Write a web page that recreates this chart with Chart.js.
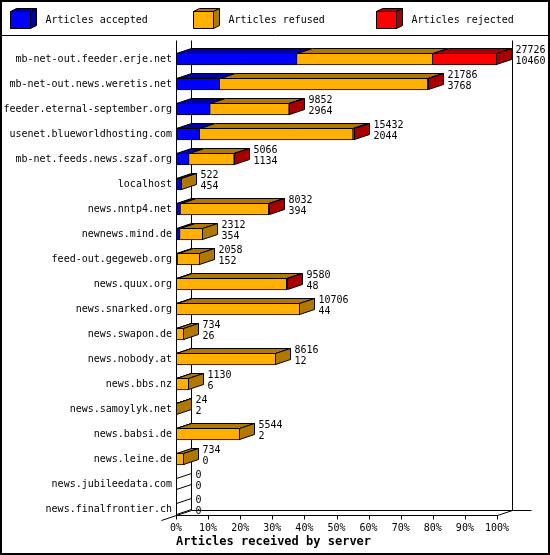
<!DOCTYPE html>
<html>
<head>
<meta charset="utf-8">
<title>Articles received by server</title>
<script src="https://cdn.jsdelivr.net/npm/chart.js@4.4.1/dist/chart.umd.min.js"></script>
<style>
  html, body { margin: 0; padding: 0; background: #fff; }
  canvas { display: block; }
</style>
</head>
<body>
<canvas id="feedChart" width="550" height="555"></canvas>
<script>
// servers, in the order of the picture
var hosts = [
  'mb-net-out.feeder.erje.net', 'mb-net-out.news.weretis.net', 'feeder.eternal-september.org',
  'usenet.blueworldhosting.com', 'mb-net.feeds.news.szaf.org', 'localhost', 'news.nntp4.net',
  'newnews.mind.de', 'feed-out.gegeweb.org', 'news.quux.org', 'news.snarked.org', 'news.swapon.de',
  'news.nobody.at', 'news.bbs.nz', 'news.samoylyk.net', 'news.babsi.de', 'news.leine.de',
  'news.jubileedata.com', 'news.finalfrontier.ch'
];
// numbers printed next to the bars
var offered  = [27726, 21786, 9852, 15432, 5066, 522, 8032, 2312, 2058, 9580, 10706, 734, 8616, 1130, 24, 5544, 734, 0, 0];
var accepted = [10460, 3768, 2964, 2044, 1134, 454, 394, 354, 152, 48, 44, 26, 12, 6, 2, 2, 0, 0, 0];
// split of the rest
var refused  = [11706, 17978, 6808, 13248, 3892, 68, 7618, 1958, 1906, 9512, 10662, 708, 8604, 1124, 22, 5542, 734, 0, 0];
var rejected = [5560, 40, 80, 140, 40, 0, 20, 0, 0, 20, 0, 0, 0, 0, 0, 0, 0, 0, 0];
var xTicks = [0, 10, 20, 30, 40, 50, 60, 70, 80, 90, 100];

var seriesNames = ['Articles accepted', 'Articles refused', 'Articles rejected'];
var frontColors = ['#0000ff', '#ffb000', '#ff0000'];
var darkColors  = ['#0000a8', '#b07800', '#a80000'];

var maxOffered = Math.max.apply(null, offered);
function toPct(list) {
  return list.map(function(v) { return v / maxOffered * 100; });
}

var DX = 15, DY = 5;
var FONT = "'DejaVu Sans Mono', monospace";

function poly(ctx, pts, fill) {
  ctx.beginPath();
  ctx.moveTo(pts[0][0], pts[0][1]);
  for (var i = 1; i < pts.length; i++) ctx.lineTo(pts[i][0], pts[i][1]);
  ctx.closePath();
  if (fill) { ctx.fillStyle = fill; ctx.fill(); }
  ctx.stroke();
}
function line(ctx, x1, y1, x2, y2) {
  ctx.beginPath();
  ctx.moveTo(x1, y1);
  ctx.lineTo(x2, y2);
  ctx.stroke();
}

function floorOf(chart) {
  var y = chart.scales.y;
  return Math.round(y.getPixelForValue(hosts.length - 1)) + 6;
}

var box3d = {
  id: 'box3d',
  beforeDatasetsDraw: function(chart) {
    var ctx = chart.ctx, a = chart.chartArea, xs = chart.scales.x;
    var left = Math.round(a.left), right = Math.round(a.right);
    var fy = floorOf(chart);
    ctx.save();
    ctx.translate(0.5, 0.5);
    ctx.strokeStyle = '#000';
    ctx.lineWidth = 1;
    // walls and floor
    line(ctx, left + DX, 40, left + DX, fy - DY);
    line(ctx, right + DX, 40, right + DX, fy - DY);
    line(ctx, left + DX, fy - DY, right + DX + 19, fy - DY);
    line(ctx, left, fy, right, fy);
    line(ctx, right, fy, right + DX, fy - DY);
    line(ctx, left - DX, fy + DY, left + DX, fy - DY);
    xTicks.forEach(function(t) {
      var px = Math.round(xs.getPixelForValue(t));
      line(ctx, px, fy, px, fy + 4);
    });
    ctx.restore();
  },
  afterDatasetsDraw: function(chart) {
    var ctx = chart.ctx, a = chart.chartArea;
    var left = Math.round(a.left);
    var metas = [0, 1, 2].map(function(d) { return chart.getDatasetMeta(d); });
    ctx.save();
    ctx.translate(0.5, 0.5);
    ctx.strokeStyle = '#000';
    ctx.lineWidth = 1;
    line(ctx, left, 40, left, floorOf(chart));

    hosts.forEach(function(h, i) {
      var last = -1, endX = left - 1, yT = 0, yB = 0, yc = 0;
      metas.forEach(function(m, d) {
        var el = m.data[i].getProps(['x', 'y', 'base', 'height'], true);
        var x0 = Math.round(el.base), x1 = Math.round(el.x) - 1;
        yc = el.y;
        yT = Math.round(el.y - el.height / 2);
        yB = yT + Math.round(el.height) - 1;
        if (x1 >= x0 || chart.data.datasets[d].data[i] > 0) {
          x1 = Math.max(x1, x0);
          poly(ctx, [[x0, yT], [x0 + DX, yT - DY], [x1 + DX, yT - DY], [x1, yT]], darkColors[d]);
          last = d;
          endX = x1;
        }
      });
      // side of the bar
      var side = [[endX, yT], [endX + DX, yT - DY], [endX + DX, yB - DY], [endX, yB]];
      if (last < 0) {
        endX = left;
        side = [[left, yT], [left + DX, yT - DY], [left + DX, yB - DY], [left, yB]];
        poly(ctx, side, null);
      } else {
        poly(ctx, side, darkColors[last]);
      }
      // counts
      ctx.fillStyle = '#000';
      ctx.font = '10px ' + FONT;
      ctx.textAlign = 'left';
      ctx.textBaseline = 'middle';
      ctx.fillText(String(offered[i]), endX + DX + 4, yc - 9);
      ctx.fillText(String(accepted[i]), endX + DX + 4, yc + 2);
    });
    ctx.restore();
  },
  afterDraw: function(chart) {
    var ctx = chart.ctx;
    var legendX = [10, 193, 376];
    ctx.save();
    ctx.translate(0.5, 0.5);
    ctx.strokeStyle = '#000';
    ctx.lineWidth = 1;
    seriesNames.forEach(function(name, d) {
      var x = legendX[d], y = 11, w = 20, hh = 17;
      poly(ctx, [[x, y], [x + 6, y - 3], [x + w + 6, y - 3], [x + w, y]], darkColors[d]);
      poly(ctx, [[x + w, y], [x + w + 6, y - 3], [x + w + 6, y + hh - 3], [x + w, y + hh]], darkColors[d]);
      poly(ctx, [[x, y], [x + w, y], [x + w, y + hh], [x, y + hh]], frontColors[d]);
      ctx.fillStyle = '#000';
      ctx.font = '10px ' + FONT;
      ctx.textAlign = 'left';
      ctx.textBaseline = 'middle';
      ctx.fillText(name, x + 35, 20);
    });
    line(ctx, 0, 35, 550, 35);
    ctx.restore();
    ctx.save();
    ctx.strokeStyle = '#000';
    ctx.lineWidth = 2;
    ctx.strokeRect(1, 1, 548, 553);
    ctx.restore();
  }
};

var datasets = [accepted, refused, rejected].map(function(list, d) {
  return {
    label: seriesNames[d],
    data: toPct(list),
    backgroundColor: frontColors[d],
    borderColor: '#000',
    borderWidth: 1,
    borderSkipped: d === 0 ? false : 'start',
    barThickness: 12,
    stack: 'all'
  };
});

new Chart(document.getElementById('feedChart'), {
  type: 'bar',
  data: { labels: hosts, datasets: datasets },
  options: {
    indexAxis: 'y',
    responsive: false,
    devicePixelRatio: 1,
    animation: false,
    layout: { padding: { top: 46.5, right: 53, left: 0, bottom: 0 } },
    plugins: { legend: { display: false }, tooltip: { enabled: false } },
    scales: {
      x: {
        stacked: true,
        min: 0,
        max: 100,
        afterFit: function(s) { s.height = 33.5; },
        afterBuildTicks: function(s) { s.ticks = xTicks.map(function(v) { return { value: v }; }); },
        grid: { display: false, drawTicks: false },
        border: { display: false },
        ticks: {
          padding: 1,
          color: '#000',
          font: { family: FONT, size: 10 },
          maxRotation: 0,
          callback: function(v) { return v + '%'; }
        },
        title: {
          display: true,
          text: 'Articles received by server',
          align: 'start',
          color: '#000',
          font: { family: FONT, size: 12, weight: 'bold' },
          padding: { top: 0, bottom: 6 }
        }
      },
      y: {
        stacked: true,
        afterFit: function(s) { s.width = 176; },
        grid: { display: false, drawTicks: false },
        border: { display: false },
        ticks: {
          padding: 4,
          color: '#000',
          font: { family: FONT, size: 10 }
        }
      }
    }
  },
  plugins: [box3d]
});
</script>
</body>
</html>
